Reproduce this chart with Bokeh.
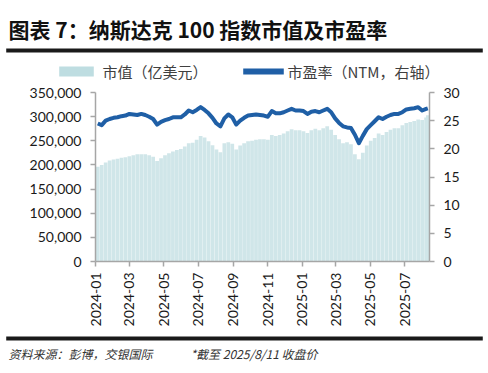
import math
from datetime import datetime
import pandas as pd
from bokeh.plotting import figure
from bokeh.models import (Range1d, LinearAxis, FixedTicker, NumeralTickFormatter,
                          DatetimeTickFormatter, ColumnDataSource, Label)
from bokeh.embed import file_html
from bokeh.resources import INLINE

# ---------------- data ----------------
title_text = "图表 7：纳斯达克 100 指数市值及市盈率"
legend_cap = "市值（亿美元）"
legend_pe = "市盈率（NTM，右轴）"
source_text = "资料来源：彭博，交银国际"
note_text = "*截至 2025/8/11 收盘价"

dates = ["2024-01-05","2024-01-12","2024-01-19","2024-01-26","2024-02-02","2024-02-09","2024-02-16","2024-02-23",
         "2024-03-01","2024-03-08","2024-03-15","2024-03-22","2024-03-29","2024-04-05","2024-04-12","2024-04-19",
         "2024-04-26","2024-05-03","2024-05-10","2024-05-17","2024-05-24","2024-05-31","2024-06-07","2024-06-14",
         "2024-06-21","2024-06-28","2024-07-05","2024-07-12","2024-07-19","2024-07-26","2024-08-02","2024-08-09",
         "2024-08-16","2024-08-23","2024-08-30","2024-09-06","2024-09-13","2024-09-20","2024-09-27","2024-10-04",
         "2024-10-11","2024-10-18","2024-10-25","2024-11-01","2024-11-08","2024-11-15","2024-11-22","2024-11-29",
         "2024-12-06","2024-12-13","2024-12-20","2024-12-27","2025-01-03","2025-01-10","2025-01-17","2025-01-24",
         "2025-01-31","2025-02-07","2025-02-14","2025-02-21","2025-02-28","2025-03-07","2025-03-14","2025-03-21",
         "2025-03-28","2025-04-04","2025-04-11","2025-04-18","2025-04-25","2025-05-02","2025-05-09","2025-05-16",
         "2025-05-23","2025-05-30","2025-06-06","2025-06-13","2025-06-20","2025-06-27","2025-07-04","2025-07-11",
         "2025-07-18","2025-07-25","2025-08-01","2025-08-08","2025-08-11"]

market_cap = [196000,200000,205000,209000,211000,213000,215000,216000,218000,220000,
              222000,222000,222000,220000,217000,208000,214000,220000,224000,228000,
              231000,233000,238000,245000,246000,252000,260000,257000,249000,241000,
              232000,226000,245000,247000,244000,232000,240000,245000,249000,250000,
              252000,253000,253000,252000,262000,260000,262000,265000,270000,274000,
              272000,272000,270000,266000,272000,275000,272000,276000,280000,273000,
              262000,253000,245000,247000,243000,222000,212000,225000,240000,250000,
              256000,265000,262000,268000,273000,276000,276000,282000,287000,289000,
              291000,294000,293000,298000,303000]

pe_ntm = [24.5,24.2,25.0,25.3,25.5,25.6,25.8,25.9,26.2,26.1,
          26.0,26.2,26.0,25.7,25.3,24.3,24.8,25.1,25.3,25.6,
          25.6,25.6,26.1,26.8,26.5,26.9,27.4,26.9,26.3,25.5,
          24.5,24.0,25.4,26.1,25.6,24.3,25.0,25.5,25.9,26.0,
          26.1,26.0,25.9,25.7,26.7,26.3,26.3,26.5,26.8,27.1,
          26.8,26.8,26.7,26.2,26.6,26.7,26.5,26.8,27.1,26.5,
          25.4,24.6,24.0,23.8,23.7,22.5,21.0,22.3,23.5,24.2,
          24.9,25.6,25.3,25.7,26.0,26.2,26.2,26.5,27.0,27.1,
          27.2,27.4,26.8,27.1,27.2]

x_ticks = ["2024-01-01","2024-03-01","2024-05-01","2024-07-01","2024-09-01","2024-11-01",
           "2025-01-01","2025-03-01","2025-05-01","2025-07-01"]
left_ticks = [0, 50000, 100000, 150000, 200000, 250000, 300000, 350000]
right_ticks = [0, 5, 10, 15, 20, 25, 30]

# ---------------- style ----------------
W, H = 488, 373
CJK = "Noto Sans CJK SC"
NUM_FONT = "Lato"
AXIS_GRAY = "#A6A6A6"
BAR_COLOR = "#D0E6E9"
SWATCH_COLOR = "#BEDDE1"
LINE_COLOR = "#1F5FA6"

src = ColumnDataSource(dict(date=pd.to_datetime(dates), cap=market_cap, pe=pe_ntm))

p = figure(width=W, height=H, x_axis_type="datetime",
           x_range=Range1d(datetime(2024, 1, 1), datetime(2025, 8, 14)),
           y_range=Range1d(0, 350000),
           toolbar_location=None, output_backend="svg",
           min_border_left=95, min_border_right=59, min_border_top=92,
           min_border_bottom=112)
p.grid.visible = False
p.outline_line_color = None
p.extra_y_ranges = {"pe": Range1d(0, 30)}

day_ms = 24 * 3600 * 1000
p.vbar(x="date", top="cap", bottom=0, width=6.6 * day_ms, source=src,
       fill_color=BAR_COLOR, line_color=None)
p.line(x="date", y="pe", source=src, y_range_name="pe", line_width=4,
       line_color=LINE_COLOR, line_join="round")

raxis = LinearAxis(y_range_name="pe")
p.add_layout(raxis, "right")

p.xaxis.ticker = FixedTicker(ticks=[pd.Timestamp(t).value // 10**6 for t in x_ticks])
p.xaxis.formatter = DatetimeTickFormatter(days="%Y-%m", months="%Y-%m", years="%Y-%m",
                                          strip_leading_zeros=False)
p.xaxis.major_label_orientation = math.pi / 2
p.xaxis.major_label_standoff = 6

p.yaxis[0].ticker = FixedTicker(ticks=left_ticks)
p.yaxis[0].formatter = NumeralTickFormatter(format="0,0")
raxis.ticker = FixedTicker(ticks=right_ticks)

for ax in p.axis:
    ax.axis_line_color = AXIS_GRAY
    ax.axis_line_width = 1.5
    ax.major_tick_line_color = AXIS_GRAY
    ax.major_tick_line_width = 1.5
    ax.major_tick_in = 0
    ax.major_tick_out = 5
    ax.minor_tick_line_color = None
    ax.major_label_text_font = NUM_FONT
    ax.major_label_text_font_size = "14px"
    ax.major_label_text_color = "#1a1a1a"
p.yaxis[0].major_label_standoff = 9
raxis.major_label_standoff = 9


def text_label(x, y, text, size, style="normal", color="#404040"):
    return Label(x=x, y=y, x_units="canvas", y_units="canvas", text=text,
                 text_font=CJK, text_font_size=size, text_font_style=style,
                 text_color=color, text_align="left", text_baseline="middle")


def bar_label(cx, cy, half_w, pad_v, color, font="2px"):
    # a filled box drawn as the background of a blank label, centred at (cx, cy)
    # padding tuple is (horizontal, vertical)
    return Label(x=cx, y=cy, x_units="canvas", y_units="canvas", text=" ",
                 text_font_size=font, text_align="center", text_baseline="middle",
                 padding=(half_w, pad_v), background_fill_color=color,
                 background_fill_alpha=1.0, border_line_color=None)


# ---- header: title, rule, legend (placed in the side panel so they are not clipped) ----
p.add_layout(text_label(8, 28, title_text, "21px", "bold", "#111111"), "above")
p.add_layout(bar_label(244, 50, 238, 1, "#1a1a1a"), "above")
p.add_layout(bar_label(76, 71, 17, 4, SWATCH_COLOR), "above")
p.add_layout(text_label(102, 71, legend_cap, "15px"), "above")
p.add_layout(bar_label(263, 71, 20, 2, LINE_COLOR), "above")
p.add_layout(text_label(287, 71, legend_pe, "15px"), "above")

# ---- footer ----
p.add_layout(bar_label(244, 338, 238, 1, "#1a1a1a"), "below")
p.add_layout(text_label(8, 353, source_text, "12px", "italic", "#333333"), "below")
p.add_layout(text_label(190, 353, note_text, "12px", "italic", "#333333"), "below")

open("out.html", "w").write(file_html(p, INLINE))
